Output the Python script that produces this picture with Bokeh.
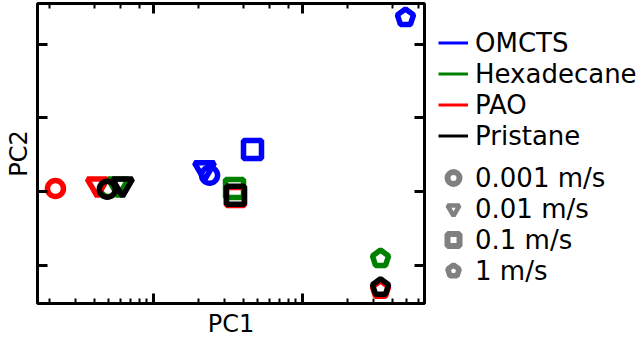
import numpy as np
from bokeh.plotting import figure
from bokeh.layouts import row
from bokeh.models import (LogAxis, LinearAxis, FixedTicker, LogTicker, Legend,
                          LegendItem, Range1d, ColumnDataSource, CustomJSTickFormatter)
from bokeh.embed import file_html
from bokeh.resources import INLINE

# ---------------- data ----------------
fluids = ["OMCTS", "Hexadecane", "PAO", "Pristane"]
speeds = ["0.001 m/s", "0.01 m/s", "0.1 m/s", "1 m/s"]

omcts_pc1 = [2.38, 2.20, 4.62, 49.1]
omcts_pc2 = [0.22, 0.31, 0.57, 2.36]
hexadecane_pc1 = [0.50, 0.58, 3.50, 33.4]
hexadecane_pc2 = [0.04, 0.09, 0.04, -0.91]
pao_pc1 = [0.22, 0.42, 3.55, 33.4]
pao_pc2 = [0.04, 0.09, -0.07, -1.33]
pristane_pc1 = [0.49, 0.62, 3.55, 33.4]
pristane_pc2 = [0.03, 0.09, -0.05, -1.30]

# ---------------- styles ----------------
fluid_colors = ["#0000ff", "#008000", "#ff0000", "#000000"]
speed_markers = ["circle", "inverted_triangle", "square", "pentagon"]
marker_sizes = {"circle": 16, "inverted_triangle": 20, "square": 18}
legend_lw = {"circle": 6, "inverted_triangle": 4.5, "square": 6, "pentagon": 5.5}
pent_radius = 8.5
mark_lw = 5.5
font = "DejaVu Sans"

pc1_all = [omcts_pc1, hexadecane_pc1, pao_pc1, pristane_pc1]
pc2_all = [omcts_pc2, hexadecane_pc2, pao_pc2, pristane_pc2]

p = figure(width=426, height=340, x_axis_type="log",
           x_range=Range1d(0.1667, 65.9), y_range=Range1d(-1.52, 2.55),
           output_backend="svg", toolbar_location=None,
           min_border_left=37, min_border_right=2,
           min_border_top=3, min_border_bottom=37)
p.xgrid.grid_line_color = None
p.ygrid.grid_line_color = None
p.outline_line_color = "black"
p.outline_line_width = 3
p.outline_line_alpha = 1
p.background_fill_color = "white"
p.border_fill_color = "white"

xb = p.xaxis[0]
yl = p.yaxis[0]
xt = LogAxis(ticker=LogTicker())
yr = LinearAxis()
p.add_layout(xt, "above")
p.add_layout(yr, "right")
yl.ticker = FixedTicker(ticks=[-1, 0, 1, 2], minor_ticks=[])
yr.ticker = FixedTicker(ticks=[-1, 0, 1, 2], minor_ticks=[])

for ax in [xb, xt, yl, yr]:
    ax.formatter = CustomJSTickFormatter(code="return ''")
    ax.major_label_text_font_size = "1px"
    ax.major_label_standoff = 0
    ax.major_tick_out = 0
    ax.major_tick_in = 10
    ax.major_tick_line_width = 3
    ax.minor_tick_out = 0
    ax.minor_tick_in = 5
    ax.minor_tick_line_width = 2
    ax.axis_line_color = None
    ax.axis_label_standoff = 0

xb.axis_label = "PC1"
yl.axis_label = "PC2"
xb.axis_label_standoff = 6
yl.axis_label_standoff = 5
for ax in [xb, yl]:
    ax.axis_label_text_font = font
    ax.axis_label_text_font_size = "24px"
    ax.axis_label_text_font_style = "normal"
    ax.axis_label_text_color = "black"

# ---------------- data marks ----------------
for pc1, pc2, col in zip(pc1_all, pc2_all, fluid_colors):
    idx = [i for i, m in enumerate(speed_markers) if m != "pentagon"]
    src = ColumnDataSource(dict(
        x=[pc1[i] for i in idx], y=[pc2[i] for i in idx],
        marker=[speed_markers[i] for i in idx],
        size=[marker_sizes[speed_markers[i]] for i in idx]))
    p.scatter("x", "y", source=src, marker="marker", size="size",
              fill_color=None, line_color=col, line_width=mark_lw)
    pidx = [i for i, m in enumerate(speed_markers) if m == "pentagon"]
    psrc = ColumnDataSource(dict(x=[pc1[i] for i in pidx], y=[pc2[i] for i in pidx]))
    p.ngon("x", "y", source=psrc, radius=pent_radius, radius_units="screen", n=5,
           fill_color=None, line_color=col, line_width=mark_lw)

# ---------------- legend panel ----------------
lp = figure(width=214, height=340, output_backend="svg", toolbar_location=None,
            x_range=Range1d(0, 1), y_range=Range1d(0, 1),
            x_axis_location=None, y_axis_location=None,
            min_border_left=0, min_border_right=0,
            min_border_top=3, min_border_bottom=37)
lp.xgrid.grid_line_color = None
lp.ygrid.grid_line_color = None
lp.outline_line_color = None
lp.background_fill_color = "white"
lp.border_fill_color = "white"

blank = dict(x=np.array([np.nan]), y=np.array([np.nan]))

line_items = []
for name, col in zip(fluids, fluid_colors):
    r = lp.line(x="x", y="y", source=ColumnDataSource(blank), line_color=col, line_width=3)
    line_items.append(LegendItem(label=name, renderers=[r]))

marker_items = []
for name, m in zip(speeds, speed_markers):
    if m == "pentagon":
        r = lp.ngon(x="x", y="y", source=ColumnDataSource(blank), radius=7,
                    radius_units="screen", n=5,
                    fill_color=None, line_color="#808080", line_width=legend_lw[m])
    else:
        r = lp.scatter(x="x", y="y", source=ColumnDataSource(blank), marker=m,
                       fill_color=None, line_color="#808080", line_width=legend_lw[m])
    marker_items.append(LegendItem(label=name, renderers=[r]))

def make_legend(items, loc):
    lg = Legend(items=items, location=loc, padding=0, spacing=0, margin=0,
                glyph_width=30, glyph_height=31, label_height=31,
                label_standoff=7, label_text_font=font,
                label_text_font_size="26px", label_text_color="black",
                border_line_color=None, background_fill_alpha=0)
    lp.add_layout(lg, "center")

make_legend(line_items, (12, 152))
make_legend(marker_items, (12, 17))

layout = row(p, lp)
open("out.html", "w").write(file_html(layout, INLINE))
